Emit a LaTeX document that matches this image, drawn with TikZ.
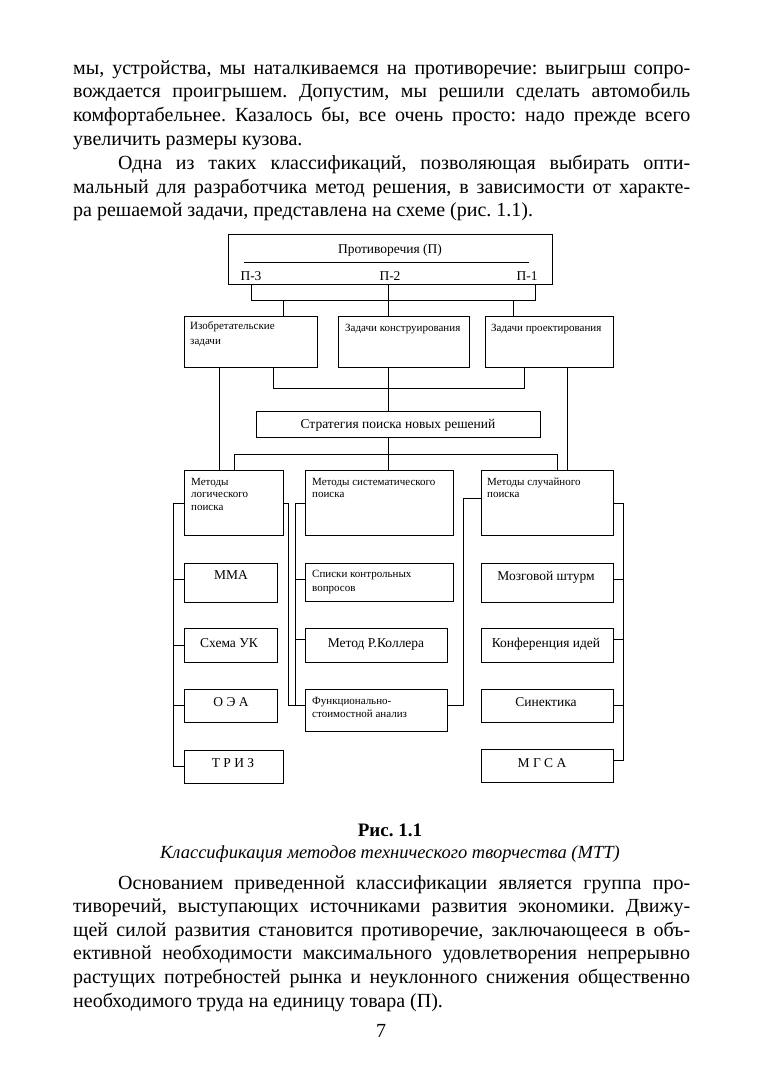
\documentclass[tikz,border=0pt]{standalone}
\usepackage{fontspec}
\setmainfont{Liberation Serif}
\usetikzlibrary{calc}
\frenchspacing
\newcommand{\jl}[1]{\hbox to 617pt{#1}}
\newcommand{\jli}[1]{\hbox to 617pt{\hskip45pt #1}}
\newcommand{\nl}[1]{\hbox{#1}}
\newcommand{\nli}[1]{\hbox{\hskip45pt #1}}
\newcommand{\twol}[3]{\vtop{\baselineskip=#1pt\hbox{#2}\hbox{#3}}}
\newcommand{\threel}[4]{\vtop{\baselineskip=#1pt\hbox{#2}\hbox{#3}\hbox{#4}}}
\begin{document}
\begin{tikzpicture}[x=1pt,y=-1pt,
  box/.style={draw, line width=0.8pt, inner sep=0pt, anchor=north west},
  link/.style={line width=0.8pt},
  body/.style={inner sep=0pt, font=\fontsize{20}{23.8}\selectfont\frenchspacing},
  big/.style={inner sep=0pt, font=\fontsize{13.5}{16}\selectfont},
  small/.style={inner sep=0pt, font=\fontsize{11}{13}\selectfont},
]
\useasboundingbox (0,0) rectangle (763,1079);

% body text top
\node[body, anchor=base west] (txtA) at (73,74) {\vtop{\baselineskip=23.8pt
\jl{мы, устройства, мы наталкиваемся на противоречие: выигрыш сопро-}
\jl{вождается проигрышем. Допустим, мы решили сделать автомобиль}
\jl{комфортабельнее. Казалось бы, все очень просто: надо прежде всего}
\nl{увеличить размеры кузова.}
\jli{Одна из таких классификаций, позволяющая выбирать опти-}
\jl{мальный для разработчика метод решения, в зависимости от характе-}
\nl{ра решаемой задачи, представлена на схеме (рис. 1.1).}}};

% boxes
\node[box, minimum width=324, minimum height=50] (top) at (228,234) {};
\node[box, minimum width=133, minimum height=51] (b1) at (184,316) {};
\node[box, minimum width=131, minimum height=51] (b2) at (338,316) {};
\node[box, minimum width=128, minimum height=51] (b3) at (485,316) {};
\node[box, minimum width=284, minimum height=26] (strat) at (256,411) {};
\node[box, minimum width=99, minimum height=65] (m1) at (184,470) {};
\node[box, minimum width=148, minimum height=65] (m2) at (305,470) {};
\node[box, minimum width=132, minimum height=65] (m3) at (481,470) {};
\node[box, minimum width=93, minimum height=39] (l1) at (184,563) {};
\node[box, minimum width=93, minimum height=34] (l2) at (184,628) {};
\node[box, minimum width=93, minimum height=33] (l3) at (184,689) {};
\node[box, minimum width=99, minimum height=33] (l4) at (184,750) {};
\node[box, minimum width=148, minimum height=38] (s1) at (305,563) {};
\node[box, minimum width=142, minimum height=34] (s2) at (305,628) {};
\node[box, minimum width=142, minimum height=42] (s3) at (305,689) {};
\node[box, minimum width=132, minimum height=39] (r1) at (481,563) {};
\node[box, minimum width=132, minimum height=34] (r2) at (481,628) {};
\node[box, minimum width=132, minimum height=33] (r3) at (481,689) {};
\node[box, minimum width=132, minimum height=33] (r4) at (481,749) {};

% texts in boxes
\node[big, anchor=base] (t0) at (390,253) {Противоречия (П)};
\node[big, anchor=base] (p3) at (251,280) {П-3};
\node[big, anchor=base] (p2) at (390,280) {П-2};
\node[big, anchor=base] (p1) at (527,280) {П-1};
\coordinate (iL) at (244,262);
\coordinate (iR) at (529,262);
\draw[link] (iL) -- (iR);
\node[small, anchor=base west] (tb1) at (190,329) {\twol{15}{Изобретательские}{задачи}};
\node[small, anchor=base west] (tb2) at (345,331) {Задачи конструирования};
\node[small, anchor=base west] (tb3) at (491,331) {Задачи проектирования};
\node[big, anchor=base] (tst) at (398,428.5) {Стратегия поиска новых решений};
\node[small, anchor=base west] (tm1) at (191,485) {\threel{12.5}{Методы}{логического}{поиска}};
\node[small, anchor=base west] (tm2) at (312,485) {\twol{12.5}{Методы систематического}{поиска}};
\node[small, anchor=base west] (tm3) at (487,485) {\twol{12.5}{Методы случайного}{поиска}};
\node[big, anchor=base] (tl1) at (231,579) {ММА};
\node[big, anchor=base] (tl2) at (229,647) {Схема УК};
\node[big, anchor=base] (tl3) at (231,706) {О Э А};
\node[big, anchor=base] (tl4) at (233,767) {Т Р И З};
\node[small, anchor=base west] (ts1) at (312,577) {\twol{14}{Списки контрольных}{вопросов}};
\node[big, anchor=base] (ts2) at (376,647) {Метод Р.Коллера};
\node[small, anchor=base west] (ts3) at (312,704) {\twol{13}{Функционально-}{стоимостной анализ}};
\node[big, anchor=base] (tr1) at (546,580) {Мозговой штурм};
\node[big, anchor=base] (tr2) at (546,647) {Конференция идей};
\node[big, anchor=base] (tr3) at (546,706) {Синектика};
\node[big, anchor=base] (tr4) at (542,767) {М Г С А};

% connectors
\draw[link] (251,0 |- top.south) |- (535,300) -- (535,0 |- top.south);
\draw[link] (388,0 |- top.south) -- (388,0 |- b2.north);
\draw[link] (283,300) -- (283,0 |- b1.north);
\draw[link] (513,300) -- (513,0 |- b3.north);
\draw[link] (273,0 |- b1.south) |- (524,388) -- (524,0 |- b3.south);
\draw[link] (388,0 |- b2.south) -- (388,0 |- strat.north);
\draw[link] (219,0 |- b1.south) -- (219,0 |- m1.north);
\draw[link] (567,0 |- b3.south) -- (567,0 |- m3.north);
\draw[link] (388,0 |- strat.south) -- (388,0 |- m2.north);
\draw[link] (234,0 |- m1.north) |- (557,454) -- (557,0 |- m3.north);
% left bus
\draw[link] (m1.west |- 0,503) -| (173,766) -- (l4.west |- 0,766);
\draw[link] (173,579) -- (l1.west |- 0,579);
\draw[link] (173,645) -- (l2.west |- 0,645);
\draw[link] (173,705) -- (l3.west |- 0,705);
% from logical box to FSA
\draw[link] (m1.east |- 0,503) -| (288,705) -- (s3.west |- 0,705);
% systematic bus
\draw[link] (m2.west |- 0,503) -| (295,705);
\draw[link] (295,579) -- (s1.west |- 0,579);
\draw[link] (295,639) -- (s2.west |- 0,639);
% FSA to random
\draw[link] (s3.east |- 0,705) -| (463,498) -- (m3.west |- 0,498);
% right bus
\draw[link] (m3.east |- 0,503) -| (623,760) -- (r4.east |- 0,760);
\draw[link] (623,579) -- (r1.east |- 0,579);
\draw[link] (623,639) -- (r2.east |- 0,639);
\draw[link] (623,705) -- (r3.east |- 0,705);

% caption
\node[inner sep=0pt, font=\fontsize{19}{21}\selectfont\bfseries, anchor=base] (cap1) at (390,836) {Рис. 1.1};
\node[inner sep=0pt, font=\fontsize{18.5}{21}\selectfont\itshape, anchor=base] (cap2) at (390,858) {Классификация методов технического творчества (МТТ)};

% body text bottom
\node[body, anchor=base west] (txtB) at (73,889) {\vtop{\baselineskip=23.6pt
\jli{Основанием приведенной классификации является группа про-}
\jl{тиворечий, выступающих источниками развития экономики. Движу-}
\jl{щей силой развития становится противоречие, заключающееся в объ-}
\jl{ективной необходимости максимального удовлетворения непрерывно}
\jl{растущих потребностей рынка и неуклонного снижения общественно}
\nl{необходимого труда на единицу товара (П).}}};
\node[body, anchor=base] (pg) at (381,1037) {7};
\end{tikzpicture}
\end{document}
